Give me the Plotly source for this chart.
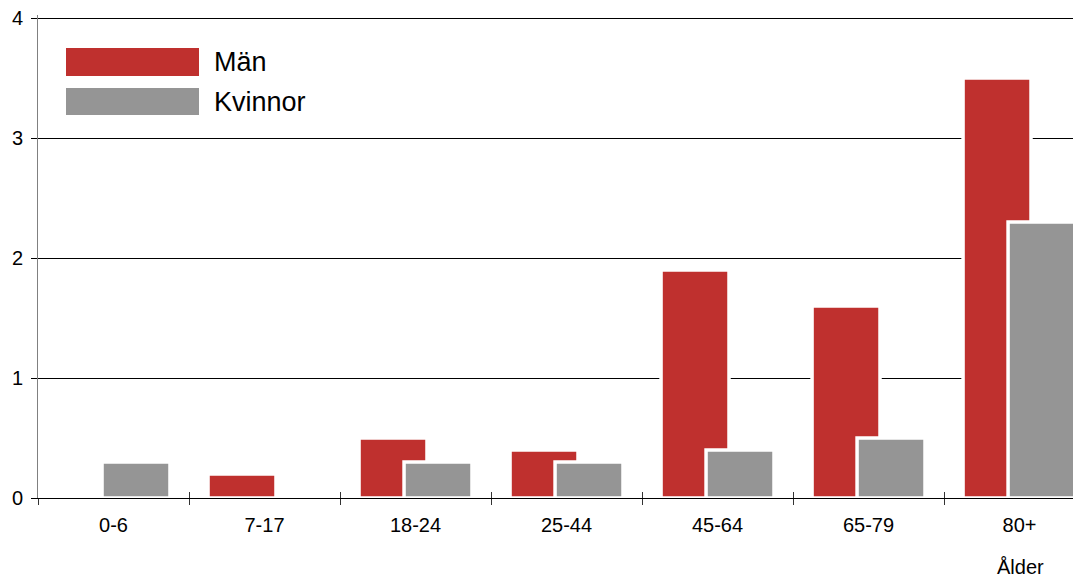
import plotly.graph_objects as go

categories = ["0-6", "7-17", "18-24", "25-44", "45-64", "65-79", "80+"]
man_values = [0, 0.2, 0.5, 0.4, 1.9, 1.6, 3.5]
kvinnor_values = [0.3, 0, 0.3, 0.3, 0.4, 0.5, 2.3]
series_names = ["Män", "Kvinnor"]
y_ticks = [0, 1, 2, 3, 4]
x_title = "Ålder"

RED = "#BF302E"
GREY = "#959595"
FONT = "Liberation Sans, Arial, Helvetica, sans-serif"

fig = go.Figure()
fig.add_trace(go.Bar(
    x=categories, y=man_values, name=series_names[0],
    marker=dict(color=RED, line=dict(color="white", width=[0 if v == 0 else 3.5 for v in man_values])),
    width=0.45, offset=-0.374, showlegend=False, hoverinfo="x+y+name",
))
fig.add_trace(go.Bar(
    x=categories, y=kvinnor_values, name=series_names[1],
    marker=dict(color=GREY, line=dict(color="white", width=[0 if v == 0 else 3.5 for v in kvinnor_values])),
    width=0.45, offset=-0.076, showlegend=False, hoverinfo="x+y+name",
))
# invisible trace to carry the inside-tick overlay axis
fig.add_trace(go.Scatter(x=categories, y=[0] * len(categories), xaxis="x2",
                         mode="markers", marker=dict(size=1, opacity=0),
                         showlegend=False, hoverinfo="skip"))

xrange = [-0.5, 6.407]
ytop = 4.025
plot_h = 480 * ytop / 4
# the page body adds an 8px offset, so the figure is 8px smaller than the window
fig.update_layout(
    width=1073, height=570,
    margin=dict(l=30, r=0, t=570 - 80 - plot_h, b=80),
    paper_bgcolor="white", plot_bgcolor="white",
    barmode="overlay",
    font=dict(family=FONT, size=20, color="black"),
    xaxis=dict(
        type="category", categoryorder="array", categoryarray=categories,
        range=xrange, tickson="boundaries", ticks="outside", ticklen=6,
        tickcolor="#333333", tickwidth=1, showline=True, linecolor="black",
        linewidth=1, showgrid=False, ticklabelstandoff=9, automargin=False,
        tickfont=dict(size=20, family=FONT),
    ),
    xaxis2=dict(
        type="category", categoryorder="array", categoryarray=categories,
        range=xrange, overlaying="x", anchor="y", side="bottom",
        tickson="boundaries", ticks="inside", ticklen=6, tickcolor="#333333",
        tickwidth=1, showticklabels=False, showline=False, showgrid=False,
        automargin=False,
    ),
    yaxis=dict(
        range=[0, ytop], tickvals=y_ticks, ticks="outside", ticklen=6,
        tickcolor="black", showgrid=True, gridcolor="black", gridwidth=1,
        showline=True, linecolor="#808080", linewidth=1, zeroline=False,
        ticklabelstandoff=4, automargin=False, ticklabeloverflow="allow",
        tickfont=dict(size=20, family=FONT),
    ),
)

def px_x(p):
    return (p - 38) / 1043

def px_y(p):
    return (498 - p) / plot_h

legend_items = [(series_names[0], RED, 48, 76), (series_names[1], GREY, 88, 115)]
for name, col, top, bot in legend_items:
    fig.add_shape(type="rect", xref="paper", yref="paper",
                  x0=px_x(66), x1=px_x(199), y0=px_y(bot), y1=px_y(top),
                  fillcolor=col, line=dict(width=0), layer="above")
    fig.add_annotation(xref="paper", yref="paper", x=px_x(212),
                       y=px_y((top + bot) / 2), text=name, showarrow=False,
                       xanchor="left", yanchor="middle",
                       font=dict(size=27, family=FONT, color="black"))

fig.add_annotation(xref="paper", yref="paper", x=px_x(1020), y=px_y(567),
                   text=x_title, showarrow=False, xanchor="center",
                   yanchor="middle", font=dict(size=20, family=FONT, color="black"))

fig.write_html("out.html")
